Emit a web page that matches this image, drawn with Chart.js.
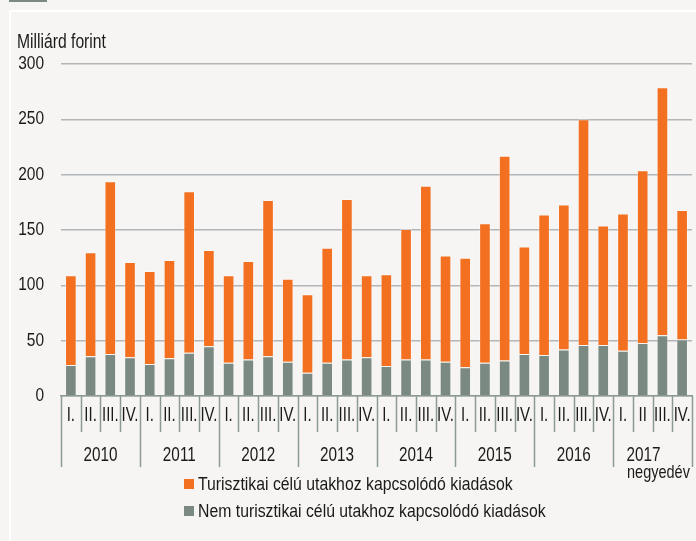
<!DOCTYPE html>
<html>
<head>
<meta charset="utf-8">
<script src="https://cdn.jsdelivr.net/npm/chart.js@4/dist/chart.umd.min.js"></script>
<style>
    body { margin: 0; background: #f6f5f3; font-family: "Liberation Sans", Arial, sans-serif; }
    #wrap { position: relative; width: 696px; height: 541px; overflow: hidden; }
    #tab { position: absolute; left: 9px; top: 0; width: 38px; height: 2px; background: #7a8a82; }
    #frame { position: absolute; left: 9px; top: 10px; right: -5px; bottom: -5px; border-left: 2px solid #fff; border-top: 2px solid #fff; }
    #chart { position: absolute; left: 0; top: 0; }
    #unit { position: absolute; left: 17px; top: 33px; font-size: 15.7px; color: #1a1a1a; transform: scaleY(1.25); transform-origin: left center; }
    .legend { position: absolute; left: 184px; font-size: 15.8px; color: #1a1a1a; white-space: nowrap; line-height: 18px; }
    .legend span { display: inline-block; width: 10px; height: 10px; margin-right: 4px; vertical-align: 0px; }
    .legend b { font-weight: normal; display: inline-block; transform: scaleY(1.22); }
</style>
</head>
<body>
<div id="wrap">
    <div id="tab"></div>
    <div id="frame"></div>
    <canvas id="chart" width="696" height="541"></canvas>
    <div id="unit">Milliárd forint</div>
    <div class="legend" style="top:475px"><span style="background:#f47021"></span><b>Turisztikai célú utakhoz kapcsolódó kiadások</b></div>
    <div class="legend" style="top:502px"><span style="background:#7a8a82"></span><b>Nem turisztikai célú utakhoz kapcsolódó kiadások</b></div>
</div>
<script>
const years = ['2010', '2011', '2012', '2013', '2014', '2015', '2016', '2017'];
const quarters = [
    'I.', 'II.', 'III.', 'IV.', 'I.', 'II.', 'III.', 'IV.',
    'I.', 'II.', 'III.', 'IV.', 'I.', 'II.', 'III.', 'IV.',
    'I.', 'II.', 'III.', 'IV.', 'I.', 'II.', 'III.', 'IV.',
    'I.', 'II.', 'III.', 'IV.', 'I.', 'II', 'III.', 'IV.'
];
const nonTourism = [28, 36, 38, 35, 29, 34, 39, 45, 30, 33, 36, 31, 21, 30, 33, 35,
    27, 33, 33, 31, 26, 30, 32, 38, 37, 42, 46, 46, 41, 48, 55, 51];
const tourism = [81, 94, 156, 86, 84, 89, 146, 87, 79, 89, 141, 75, 71, 104, 145, 74,
    83, 118, 157, 96, 99, 126, 185, 97, 127, 131, 204, 108, 124, 156, 224, 117];
const yTicks = [0, 50, 100, 150, 200, 250, 300];

const fontFamily = '"Liberation Sans", Arial, sans-serif';
const axisColor = '#8c9a94';
const textColor = '#1a1a1a';

// text in the reference is a bit taller than wide
const tallText = (ctx, text, x, y, scaleY) => {
    ctx.save();
    ctx.translate(x, y);
    ctx.scale(1, scaleY);
    ctx.fillText(text, 0, 0);
    ctx.restore();
};

// tick labels, separators and year labels
const axisLabels = {
    id: 'axisLabels',
    afterDraw(chart) {
        const {ctx, chartArea} = chart;
        const x = chart.scales.x;
        const y = chart.scales.y;
        const n = quarters.length;
        const w = (chartArea.right - chartArea.left) / n;
        const base = x.top;
        ctx.save();
        ctx.strokeStyle = axisColor;
        ctx.lineWidth = 1.5;
        for (let i = 0; i <= n; i++) {
            const bx = Math.round(chartArea.left + i * w) + 0.5;
            ctx.beginPath();
            ctx.moveTo(bx, base);
            ctx.lineTo(bx, i % 4 === 0 ? base + 71 : base + 36);
            ctx.stroke();
        }
        ctx.fillStyle = textColor;
        ctx.textBaseline = 'middle';

        ctx.textAlign = 'right';
        ctx.font = '15.5px ' + fontFamily;
        yTicks.forEach(v => tallText(ctx, String(v), 44, y.getPixelForValue(v), 1.2));

        ctx.textAlign = 'center';
        ctx.font = '15px ' + fontFamily;
        quarters.forEach((q, i) => tallText(ctx, q, x.getPixelForValue(i), base + 20, 1.3));

        ctx.font = '15.3px ' + fontFamily;
        years.forEach((yr, k) => {
            let cx = (x.getPixelForValue(k * 4) + x.getPixelForValue(k * 4 + 3)) / 2;
            if (k === years.length - 1) cx -= 9;
            tallText(ctx, yr, cx, base + 60, 1.3);
        });
        ctx.font = '14.5px ' + fontFamily;
        tallText(ctx, 'negyedév', x.getPixelForValue(29.8), base + 77, 1.25);
        ctx.restore();
    }
};

new Chart(document.getElementById('chart'), {
    type: 'bar',
    data: {
        labels: quarters,
        datasets: [
            {
                label: 'Nem turisztikai célú utakhoz kapcsolódó kiadások',
                data: nonTourism,
                backgroundColor: '#7a8a82',
                borderColor: 'rgba(255,255,255,0.25)',
                borderWidth: 1,
                barPercentage: 0.59,
                categoryPercentage: 1
            },
            {
                label: 'Turisztikai célú utakhoz kapcsolódó kiadások',
                data: tourism,
                backgroundColor: '#f47021',
                borderColor: 'rgba(255,255,255,0.3)',
                borderWidth: 1,
                barPercentage: 0.59,
                categoryPercentage: 1
            }
        ]
    },
    options: {
        responsive: false,
        animation: false,
        layout: {
            padding: {top: 64, right: 4, left: 0, bottom: 0}
        },
        plugins: {
            legend: {display: false},
            tooltip: {enabled: false}
        },
        scales: {
            x: {
                stacked: true,
                grid: {display: false},
                border: {color: axisColor, width: 1.5},
                ticks: {display: false},
                afterFit(scale) {
                    scale.height = 145;
                }
            },
            y: {
                stacked: true,
                min: 0,
                max: 300,
                afterBuildTicks(scale) {
                    scale.ticks = yTicks.map(v => ({value: v}));
                },
                grid: {color: '#b3b6b9', lineWidth: 1.5, drawTicks: false},
                border: {display: false},
                ticks: {display: false},
                afterFit(scale) {
                    scale.width = 61;
                }
            }
        }
    },
    plugins: [axisLabels]
});
</script>
</body>
</html>
